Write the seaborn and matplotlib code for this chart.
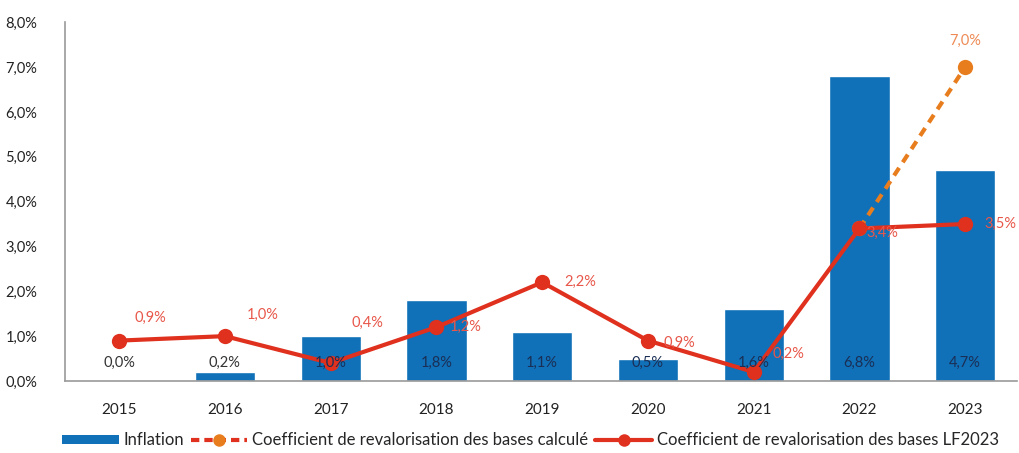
import matplotlib
matplotlib.use("Agg")
import matplotlib.pyplot as plt
import seaborn as sns
import numpy as np
import pandas as pd
from matplotlib.lines import Line2D
from matplotlib.patches import Patch

years = ["2015", "2016", "2017", "2018", "2019", "2020", "2021", "2022", "2023"]
inflation = [0.0, 0.2, 1.0, 1.8, 1.1, 0.5, 1.6, 6.8, 4.7]
coef_lf2023 = [0.9, 1.0, 0.4, 1.2, 2.2, 0.9, 0.2, 3.4, 3.5]
coef_calc_years = ["2022", "2023"]
coef_calc = [3.4, 7.0]
yticks = [0, 1, 2, 3, 4, 5, 6, 7, 8]

BLUE = "#1070b8"
RED = "#e0301e"
ORANGE = "#e87d1e"
RED_TXT = "#e8574a"
ORANGE_TXT = "#ee8a55"

sns.set_theme(style="white")
plt.rcParams["font.family"] = ["Lato", "DejaVu Sans"]

fig = plt.figure(figsize=(10.19, 4.53), dpi=100)
ax = fig.add_axes([0.064, 0.159, 0.934, 0.792])

df = pd.DataFrame({"year": years, "inflation": inflation})
sns.barplot(data=df, x="year", y="inflation", color=BLUE, saturation=1,
            width=0.57, ax=ax)

pos = np.arange(len(years))
calc_pos = [years.index(y) for y in coef_calc_years]

# dashed computed coefficient (drawn first, under the LF2023 line)
sns.lineplot(x=calc_pos, y=coef_calc, ax=ax, color=ORANGE, lw=3,
             linestyle=(0, (2.2, 1.6)), marker="o", markersize=11,
             markeredgewidth=0, zorder=3, legend=False)
sns.lineplot(x=pos, y=coef_lf2023, ax=ax, color=RED, lw=3, marker="o",
             markersize=11, markeredgewidth=0, zorder=4, legend=False)

# bar labels
for i, v in enumerate(inflation):
    txt = f"{v:.1f}%".replace(".", ",")
    col = "#333333" if v < 0.5 else "#1a2f55"
    ax.text(i, 0.4, txt, ha="center", va="center", fontsize=10.5,
            color=col, zorder=5)

# LF2023 labels: offsets (dx in category units, dy in %)
offsets = [(0.3, 0.5), (0.36, 0.47), (0.35, 0.9), (0.28, 0.0),
           (0.36, 0.0), (0.3, -0.05), (0.33, 0.4), (0.22, -0.1), (0.33, 0.0)]
for i, (v, (dx, dy)) in enumerate(zip(coef_lf2023, offsets)):
    txt = f"{v:.1f}%".replace(".", ",")
    ax.text(i + dx, v + dy, txt, ha="center", va="center", fontsize=10.5,
            color=RED_TXT, zorder=6)

ax.text(calc_pos[-1], coef_calc[-1] + 0.58, f"{coef_calc[-1]:.1f}%".replace(".", ","),
        ha="center", va="center", fontsize=10.5, color=ORANGE_TXT, zorder=6)

ax.set_xlim(-0.51, 8.49)
ax.set_ylim(0, 8)
ax.set_yticks(yticks)
ax.set_yticklabels([f"{t:.1f}%".replace(".", ",") for t in yticks],
                   fontsize=10.5, color="#222222")
ax.tick_params(axis="x", labelsize=11, colors="#222222", pad=10)
ax.tick_params(axis="y", pad=14)
ax.set_xlabel("")
ax.set_ylabel("")
for s in ["top", "right"]:
    ax.spines[s].set_visible(False)
for s in ["left", "bottom"]:
    ax.spines[s].set_color("#9a9a9a")
    ax.spines[s].set_linewidth(1.2)

handles = [
    Patch(facecolor=BLUE, edgecolor="none", label="Inflation"),
    Line2D([], [], color=RED, lw=3, linestyle=(0, (2, 1.2)), marker="o",
           markersize=9, markerfacecolor=ORANGE, markeredgewidth=0,
           label="Coefficient de revalorisation des bases calculé"),
    Line2D([], [], color=RED, lw=3, marker="o", markersize=9,
           markeredgewidth=0,
           label="Coefficient de revalorisation des bases LF2023"),
]
fig.legend(handles=handles, loc="center left", bbox_to_anchor=(0.046, 0.028),
           ncol=3, frameon=False, fontsize=12, handlelength=3.4,
           handleheight=0.45, handletextpad=0.3, columnspacing=0.4)

fig.savefig("out.png", dpi=100)
